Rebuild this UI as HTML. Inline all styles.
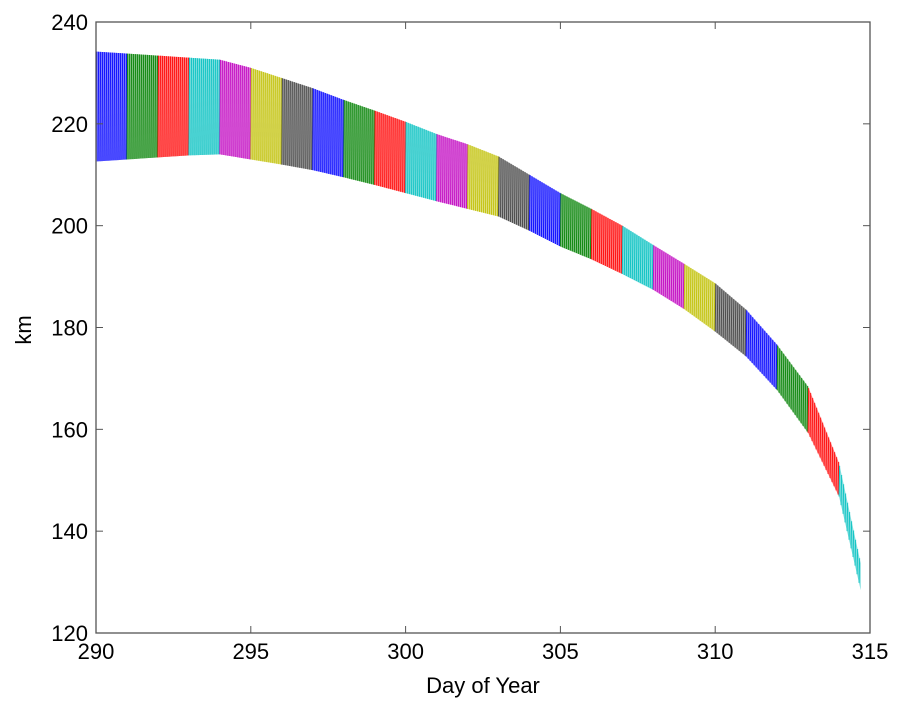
<!DOCTYPE html>
<html><head><meta charset="utf-8"><style>
html,body{margin:0;padding:0;background:#fff;}
svg{display:block;font-family:"Liberation Sans",Arial,sans-serif;}
</style></head><body>
<svg id="chart" width="900" height="704" viewBox="0 0 900 704" xmlns="http://www.w3.org/2000/svg">
<rect width="900" height="704" fill="#fff"/>
<g id="bands"></g>
<g id="axes"></g>
</svg>
<script>
const knotDays = [290,291,292,293,294,295,296,297,298,299,300,301,302,303,304,305,306,307,308,309,310,311,312,313,314,314.7];
const upperKm = [234.2,233.8,233.4,233.0,232.6,231,229,227,224.7,222.6,220.4,218,216,213.6,210,206.4,203.3,200,196.2,192.5,188.7,183.5,176.6,168.4,153.4,133.7];
const lowerKm = [212.6,213,213.4,213.8,214,213,212,210.9,209.5,208,206.4,204.8,203.3,201.8,199,195.9,193.4,190.5,187.4,183.6,179.2,174.3,167.7,159.3,146.8,128.4];
const xTicks = [290,295,300,305,310,315];
const yTicks = [120,140,160,180,200,220,240];
const dayColors = ["#0000ff","#008000","#ff0000","#00bfbf","#bf00bf","#bfbf00","#404040"];

const L=96,R=870,T=22,B=633;
const x = d => L + (d-290)/(315-290)*(R-L);
const y = v => B - (v-120)/(240-120)*(B-T);
const NS="http://www.w3.org/2000/svg";
function interp(arr,t){
  for(let i=0;i<knotDays.length-1;i++){
    if(t<=knotDays[i+1]){const f=(t-knotDays[i])/(knotDays[i+1]-knotDays[i]);return arr[i]+f*(arr[i+1]-arr[i]);}
  }
  return arr[arr.length-1];
}
const bands=document.getElementById('bands');
const endDay=knotDays[knotDays.length-1];
for(let d=290; d<endDay; d++){
  const d1=Math.min(d+1,endDay);
  const col=dayColors[(d-290)%7];
  let pts=[];
  for(let t=d;t<=d1+1e-9;t+=0.05){pts.push(x(Math.min(t,d1))+","+y(interp(upperKm,Math.min(t,d1))));}
  for(let t=d1;t>=d-1e-9;t-=0.05){pts.push(x(Math.max(t,d))+","+y(interp(lowerKm,Math.max(t,d))));}
  const p=document.createElementNS(NS,'polygon');
  
  
  p.setAttribute('points',pts.join(' '));
  p.setAttribute('fill',col);p.setAttribute('fill-opacity','0.5');
  bands.appendChild(p);
  const g=document.createElementNS(NS,'g');
  
  
  for(let t=d;t<d1;t+=1/15.5){
    const ln=document.createElementNS(NS,'line');
    ln.setAttribute('x1',x(t));ln.setAttribute('x2',x(t+0.02));
    ln.setAttribute('y1',y(interp(lowerKm,t)));ln.setAttribute('y2',y(interp(upperKm,t+0.02)));
    ln.setAttribute('stroke',col);ln.setAttribute('stroke-width','1');ln.setAttribute('stroke-opacity','0.85');
    g.appendChild(ln);
  }
  bands.appendChild(g);
}
const axes=document.getElementById('axes');
const box=document.createElementNS(NS,'rect');


box.setAttribute('x',L);box.setAttribute('y',T);box.setAttribute('width',R-L);box.setAttribute('height',B-T);
box.setAttribute('fill','none');box.setAttribute('stroke','#555');box.setAttribute('stroke-width','1.3');
axes.appendChild(box);
xTicks.forEach(v=>{
  const xx=x(v);
  [[B,B-7],[T,T+7]].forEach(([a,b])=>{const l=document.createElementNS(NS,'line');
    
    
    l.setAttribute('x1',xx);l.setAttribute('x2',xx);l.setAttribute('y1',a);l.setAttribute('y2',b);l.setAttribute('stroke','#555');axes.appendChild(l);});
  const tx=document.createElementNS(NS,'text');
  
  
  tx.setAttribute('x',xx);tx.setAttribute('y',B+26);tx.setAttribute('text-anchor','middle');tx.setAttribute('font-size','22');
  tx.textContent=v;axes.appendChild(tx);
});
yTicks.forEach(v=>{
  const yy=y(v);
  [[L,L+7],[R,R-7]].forEach(([a,b])=>{const l=document.createElementNS(NS,'line');
    
    
    l.setAttribute('x1',a);l.setAttribute('x2',b);l.setAttribute('y1',yy);l.setAttribute('y2',yy);l.setAttribute('stroke','#555');axes.appendChild(l);});
  const tx=document.createElementNS(NS,'text');
  
  
  tx.setAttribute('x',L-8);tx.setAttribute('y',yy+8);tx.setAttribute('text-anchor','end');tx.setAttribute('font-size','22');
  tx.textContent=v;axes.appendChild(tx);
});
</script>
<svg style="position:absolute;left:0;top:0" width="900" height="704">
<text x="483" y="693" text-anchor="middle" font-size="22" font-family="Liberation Sans, Arial, sans-serif">Day of Year</text>
<text x="31" y="330" text-anchor="middle" font-size="22" font-family="Liberation Sans, Arial, sans-serif" transform="rotate(-90 31 330)">km</text>
</svg>
</body></html>
